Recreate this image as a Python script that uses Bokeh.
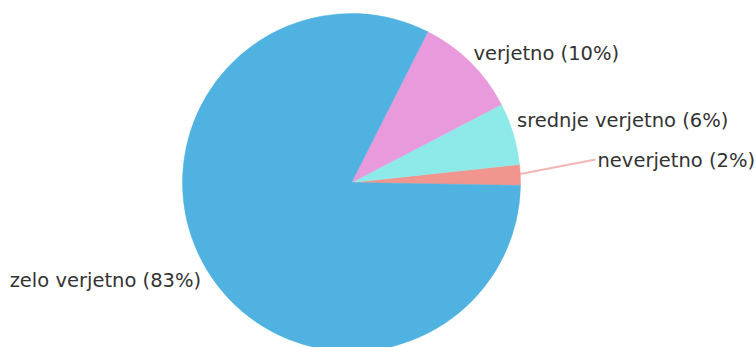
import math
from bokeh.plotting import figure
from bokeh.models import Range1d, ColumnDataSource
from bokeh.core.properties import value
from bokeh.embed import file_html
from bokeh.resources import INLINE

# data (counter-clockwise from the start angle)
categories = ["neverjetno", "srednje verjetno", "verjetno", "zelo verjetno"]
percents = [2, 6, 10, 83]
colors = ["#f0968f", "#8eeae9", "#e99adc", "#50b2e0"]

W, H = 756, 347
CX, CY = 351, 182   # pixel centre
R = 169
start_deg = -1.0

p = figure(width=W, height=H, output_backend="svg", toolbar_location=None,
           x_range=Range1d(-CX, W - CX), y_range=Range1d(-(H - CY), CY),
           min_border=0, border_fill_color="white")
p.axis.visible = False
p.grid.visible = False
p.outline_line_color = None

total = sum(percents)
starts, ends, mids = [], [], []
a = math.radians(start_deg)
for v in percents:
    s = a
    e = a + 2 * math.pi * v / total
    starts.append(s); ends.append(e); mids.append((s + e) / 2)
    a = e

src = ColumnDataSource(dict(start=starts, end=ends, color=colors))
p.wedge(x=0, y=0, radius=R, start_angle="start", end_angle="end",
        fill_color="color", line_color="color", line_width=0.5, source=src)

labels = [f"{c} ({v}%)" for c, v in zip(categories, percents)]
font = value("DejaVu Sans")
fs = "19.5px"
tc = "#333333"

# label anchors derived from mid angles
lx, ly, align = [], [], []
for i, m in enumerate(mids):
    rr = R * 1.06
    x = rr * math.cos(m); y = rr * math.sin(m)
    lx.append(x); ly.append(y)
    align.append("left" if math.cos(m) >= 0 else "right")

# neverjetno: leader line out to the right
m0 = mids[0]
x0, y0 = R * math.cos(m0), R * math.sin(m0) + 1
x1, y1 = 244, 23
p.line([x0, x1], [y0, y1], line_color="#f4a3a3", line_width=2, line_alpha=0.8)
lx[0], ly[0] = x1 + 2, y1 - 1
lx[1], ly[1] = lx[1] - 6, ly[1] + 10
lx[2], ly[2] = lx[2] - 4, ly[2] + 2
lx[3], ly[3] = lx[3] + 3, ly[3] - 6

p.text(x=lx, y=ly, text=labels, text_align=align, text_baseline="middle",
       text_font=font, text_font_size=fs, text_color=tc)

open("out.html", "w").write(file_html(p, INLINE))
